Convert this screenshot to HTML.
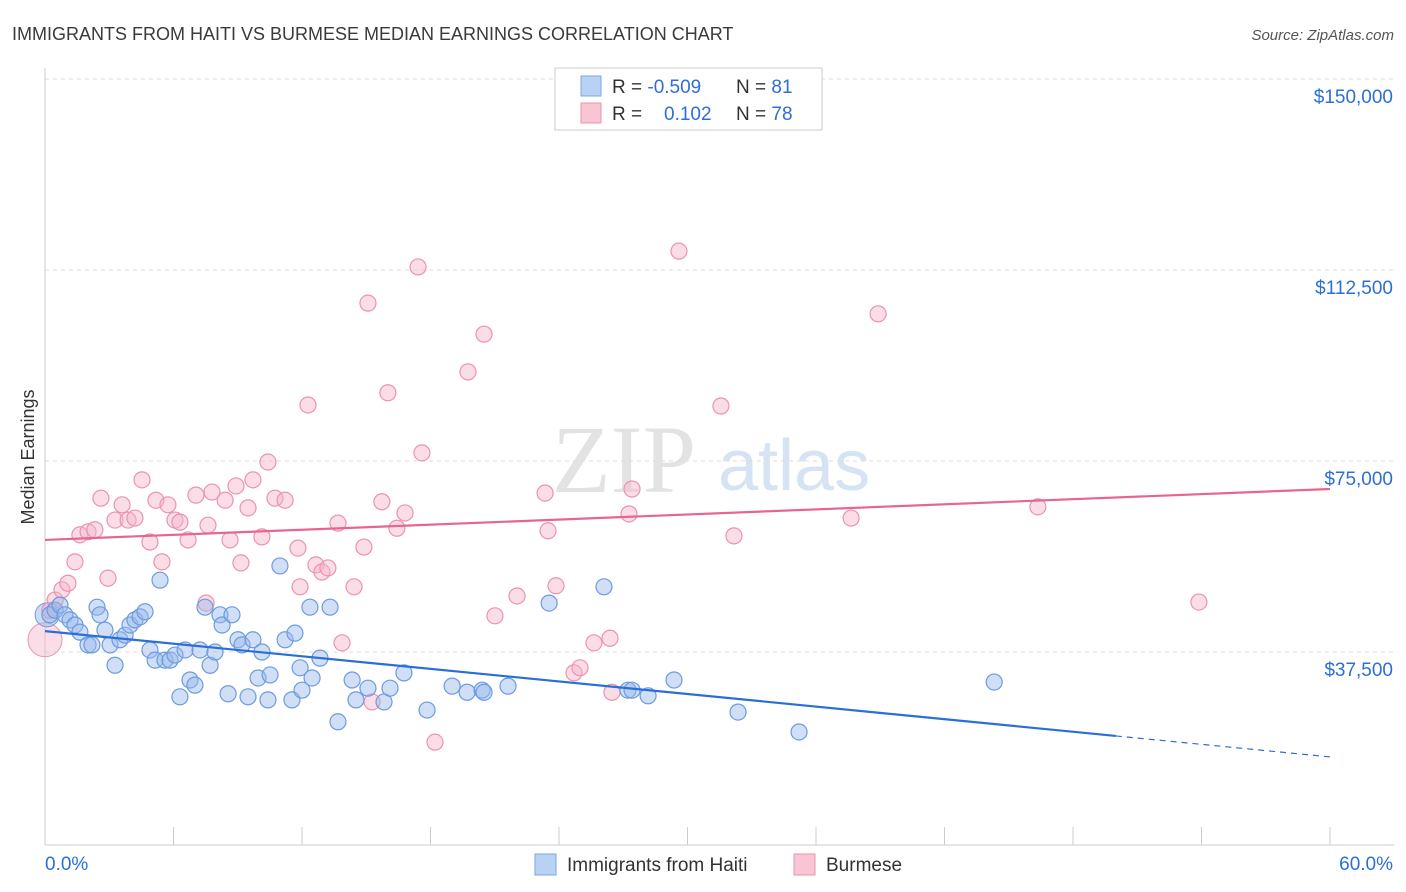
<!DOCTYPE html>
<html><head><meta charset="utf-8">
<style>
body{margin:0;background:#fff;font-family:"Liberation Sans",sans-serif;}
#wrap{position:relative;width:1406px;height:892px;overflow:hidden;}
</style></head>
<body>
<div id="wrap">
<svg id="chart" width="1406" height="892">
<text x="12" y="40" font-size="18" fill="#3a3a3a">IMMIGRANTS FROM HAITI VS BURMESE MEDIAN EARNINGS CORRELATION CHART</text>
<text x="1394" y="40" font-size="15" fill="#555" font-style="italic" text-anchor="end">Source: ZipAtlas.com</text>
<text x="34" y="457" font-size="18" fill="#333" transform="rotate(-90 34 457)" text-anchor="middle">Median Earnings</text>
<g>
<text x="552" y="492" font-size="96" fill="#e3e3e3" font-family="Liberation Serif,serif">ZIP</text>
<text x="718" y="490" font-size="72" fill="#d5e3f5">atlas</text>
</g>
<g id="grid"></g><g id="axes"></g><g id="marks"></g><g id="trend"></g>
<g>
<rect x="555" y="68" width="267" height="62" fill="#fff" stroke="#ccc"/>
<rect x="581" y="76" width="20" height="20" fill="#b9d2f3" stroke="#7aa5e3"/>
<rect x="581" y="103" width="20" height="20" fill="#f9c5d5" stroke="#eb93b0"/>
<text x="612" y="93" font-size="19" fill="#333">R = <tspan fill="#2c6fd6">-0.509</tspan><tspan x="736">N = </tspan><tspan fill="#2c6fd6">81</tspan></text>
<text x="612" y="120" font-size="19" fill="#333">R = <tspan x="664" fill="#2c6fd6">0.102</tspan><tspan x="736">N = </tspan><tspan fill="#2c6fd6">78</tspan></text>
</g>
<g>
<rect x="535" y="854" width="21" height="21" fill="#b9d2f3" stroke="#7aa5e3"/>
<text x="567" y="871" font-size="19" fill="#333">Immigrants from Haiti</text>
<rect x="794" y="854" width="21" height="21" fill="#f9c5d5" stroke="#eb93b0"/>
<text x="826" y="871" font-size="19" fill="#333">Burmese</text>
</g>
</svg>
</div>
<script>
const yTicks=[37500,75000,112500,150000];
const yTickLabels=["$37,500","$75,000","$112,500","$150,000"];
const xTickLabels=["0.0%","60.0%"];
const haitiX=[0.23,0.47,0.70,0.93,1.17,1.40,1.63,2.01,2.19,2.43,2.57,2.80,3.04,3.27,3.50,3.74,3.97,4.20,4.44,4.67,4.90,5.14,5.37,5.60,5.84,6.07,6.30,6.54,6.77,7.00,7.24,7.47,7.71,7.94,8.17,8.27,8.55,8.73,9.01,9.20,9.48,9.71,9.95,10.13,10.41,10.51,10.97,11.21,11.53,11.67,11.91,12.00,12.37,12.47,12.84,13.31,13.68,14.34,14.52,15.08,15.83,16.11,16.76,17.84,19.01,19.71,20.41,20.50,21.62,23.54,26.10,27.22,27.41,28.16,29.37,32.36,35.21,44.32];
const haitiY=[44.8,45.7,46.7,44.8,43.8,42.8,41.4,38.9,38.9,46.3,44.8,41.8,38.9,34.9,39.9,40.8,42.8,43.8,44.4,45.4,37.9,35.9,51.6,35.9,35.9,36.9,28.7,37.9,32.0,31.0,37.9,46.3,34.9,37.5,44.8,42.8,29.3,44.8,39.9,38.9,28.7,39.9,32.4,37.5,28.1,33.0,54.4,39.9,28.1,41.2,34.4,30.0,46.3,32.4,36.3,46.3,23.8,32.0,28.1,30.4,27.7,30.4,33.4,26.1,30.8,29.6,30.0,29.6,30.8,47.1,50.3,30.0,30.0,28.9,32.0,25.7,21.8,31.6];
const burmX=[0.23,0.47,0.79,1.07,1.40,1.63,2.01,2.33,2.61,2.94,3.27,3.60,3.88,4.20,4.53,4.90,5.18,5.46,5.74,6.07,6.30,6.68,7.05,7.52,7.61,7.80,8.41,8.64,8.92,9.15,9.48,9.71,10.13,10.41,10.74,11.21,11.81,11.91,12.28,12.65,12.93,13.21,13.68,13.87,14.43,14.89,15.08,15.27,15.73,16.01,16.43,16.81,17.42,17.60,18.21,19.75,20.50,21.01,22.04,23.35,23.49,23.86,24.70,24.98,25.63,26.38,26.47,27.27,27.41,29.60,31.56,32.17,37.64,38.90,46.36,53.88];
const burmY=[45.7,47.7,49.7,51.0,55.2,60.5,61.1,61.5,67.7,52.0,63.4,66.4,63.4,63.8,71.3,59.1,67.3,55.2,66.4,63.4,63.0,59.5,68.3,47.1,62.4,68.9,67.3,59.5,70.1,55.0,65.8,71.3,60.1,74.8,67.7,67.3,57.9,50.3,86.0,54.6,53.2,54.0,62.8,39.3,50.3,58.1,106.0,27.7,67.0,88.4,61.8,64.8,113.1,76.6,19.8,92.5,99.9,44.6,48.5,68.7,61.3,50.5,33.4,34.4,39.3,40.2,29.6,64.6,69.5,116.2,85.8,60.3,63.8,103.9,66.0,47.3];
const haitiTrend=[41.6,16.9]; // value at 0% and 60%
const burmTrend=[59.5,69.5];
const X0=45,X1=1330,Y0=843,Y150=79;
const xs=p=>X0+p/60*(X1-X0);
const ys=k=>Y0-(k*1000)/150000*(Y0-Y150);
const NS="http://www.w3.org/2000/svg";
function mk(tag,attrs,parent){const e=document.createElementNS(NS,tag);for(const k in attrs)e.setAttribute(k,attrs[k]);parent.appendChild(e);return e;}
const grid=document.getElementById('grid'),axes=document.getElementById('axes'),marks=document.getElementById('marks'),trend=document.getElementById('trend');
yTicks.forEach((v,i)=>{const y=ys(v/1000);
const l=mk('line',{x1:X0,x2:1394,y1:y,y2:y,stroke:'#dedede','stroke-dasharray':'4,4'},grid);


const t=mk('text',{x:1393,y:y+24,'font-size':19,fill:'#2c6fd6','text-anchor':'end'},axes);t.textContent=yTickLabels[i];

});
const ax=mk('line',{x1:X0,x2:X0,y1:68,y2:Y0+2,stroke:'#ccc'},axes);


const bx=mk('line',{x1:X0,x2:1394,y1:Y0+2,y2:Y0+2,stroke:'#ccc'},axes);


for(let i=0;i<=10;i++){const x=xs(i*6);const t=mk('line',{x1:x,x2:x,y1:827,y2:845,stroke:'#ccc'},axes);

}
const xl0=mk('text',{x:45,y:870,'font-size':19,fill:'#2c6fd6'},axes);xl0.textContent=xTickLabels[0];


const xl1=mk('text',{x:1393,y:870,'font-size':19,fill:'#2c6fd6','text-anchor':'end'},axes);xl1.textContent=xTickLabels[1];


// big clusters at origin
const bb=mk('circle',{cx:xs(0),cy:ys(39.9),r:17,fill:'rgba(246,180,202,0.45)',stroke:'#eb93b0'},marks);


const hb=mk('circle',{cx:xs(0.1),cy:ys(44.8),r:12,fill:'rgba(150,185,235,0.5)',stroke:'#6c9be0'},marks);


burmX.forEach((x,i)=>{const c=mk('circle',{cx:xs(x),cy:ys(burmY[i]),r:8,fill:'rgba(246,180,202,0.45)',stroke:'#eb93b0','stroke-width':1.2},marks);

});
haitiX.forEach((x,i)=>{const c=mk('circle',{cx:xs(x),cy:ys(haitiY[i]),r:8,fill:'rgba(150,185,235,0.45)',stroke:'#6c9be0','stroke-width':1.2},marks);

});
const hv=p=>haitiTrend[0]+(haitiTrend[1]-haitiTrend[0])*p/60;
const t1=mk('line',{x1:xs(0),y1:ys(hv(0)),x2:xs(50),y2:ys(hv(50)),stroke:'#2a6ed8','stroke-width':2.2},trend);


const t2=mk('line',{x1:xs(50),y1:ys(hv(50)),x2:xs(60),y2:ys(hv(60)),stroke:'#2a6ed8','stroke-width':1.2,'stroke-dasharray':'6,5'},trend);


const t3=mk('line',{x1:xs(0),y1:ys(burmTrend[0]),x2:xs(60),y2:ys(burmTrend[1]),stroke:'#e8658f','stroke-width':2.2},trend);


</script>
</body></html>
